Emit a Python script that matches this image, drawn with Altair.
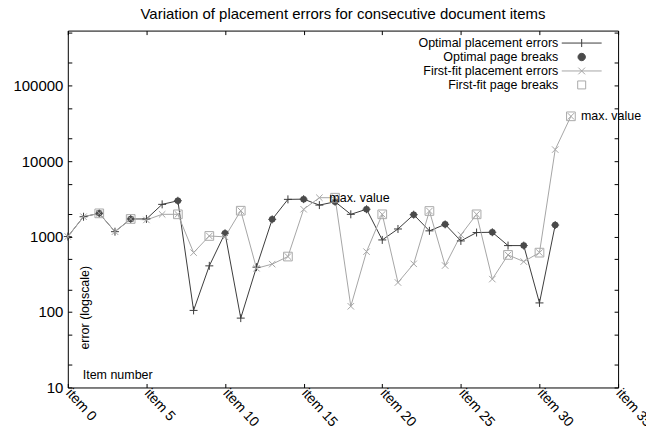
import altair as alt
import pandas as pd

# ---------------- data ----------------
series_names = ["Optimal placement errors", "Optimal page breaks",
                "First-fit placement errors", "First-fit page breaks"]

opt_items = list(range(0, 32))
opt_errors = [1000, 1830, 2030, 1160, 1710, 1710, 2670, 2980, 105, 409,
              1107, 83, 393, 1690, 3110, 3130, 2610, 2890, 1970, 2300,
              902, 1260, 1950, 1190, 1450, 875, 1130, 1140, 759, 759,
              132, 1420]

ff_items = list(range(0, 33))
ff_errors = [1000, 1830, 2030, 1160, 1710, 1660, 1970, 1970, 612, 1018,
             990, 2200, 380, 431, 543, 2300, 3270, 3270, 119, 631,
             1970, 246, 435, 2180, 413, 1050, 1970, 273, 571, 466,
             612, 14200, 39200]

opt_break_items = [2, 4, 7, 10, 13, 15, 17, 19, 22, 24, 27, 29, 31]
ff_break_items = [2, 4, 7, 9, 11, 14, 17, 20, 23, 26, 28, 30, 32]

label_items = [16, 32]
label_values = [3270, 39200]
label_texts = ["max. value", "max. value"]

x_ticks = [0, 5, 10, 15, 20, 25, 30, 35]
y_major = [10, 100, 1000, 10000, 100000]
y_minor = [20, 50, 200, 500, 2000, 5000, 20000, 50000, 200000, 500000]

# ---------------- tables ----------------
opt_df = pd.DataFrame({"item": opt_items, "error": opt_errors, "series": series_names[0]})
ff_df = pd.DataFrame({"item": ff_items, "error": ff_errors, "series": series_names[2]})
opt_map = dict(zip(opt_items, opt_errors))
ff_map = dict(zip(ff_items, ff_errors))
opt_br_df = pd.DataFrame({"item": opt_break_items,
                          "error": [opt_map[i] for i in opt_break_items]})
ff_br_df = pd.DataFrame({"item": ff_break_items,
                         "error": [ff_map[i] for i in ff_break_items]})
lab_df = pd.DataFrame({"item": label_items, "error": label_values, "text": label_texts})
# the key is drawn from the scale domains alone, so its layer holds no rows
key_df = pd.DataFrame({"item": pd.Series([], dtype=float),
                       "error": pd.Series([], dtype=float),
                       "series": pd.Series([], dtype=str)})

# ---------------- styling ----------------
FONT = "Liberation Sans"
DARK = "#3c3c3c"
DARK_PT = "#4a4a4a"
LIGHT = "#a6a6a6"
LIGHT_SQ = "#aaaaaa"

PLUS = "M-1,0L1,0M0,-1L0,1"
XMARK = "M-1,-1L1,1M-1,1L1,-1"
# key symbols (unit = 6.5 px), drawn to the right of the right-aligned labels
KEY_PLUS = "M1.615,0L7.77,0M4.69,-0.615L4.69,0.615"
KEY_DOT = "M5.26,0A0.57,0.57,0,1,1,4.12,0A0.57,0.57,0,1,1,5.26,0Z"
KEY_X = "M1.615,0L7.77,0M4.17,-0.52L5.21,0.52M4.17,0.52L5.21,-0.52"
KEY_SQ = "M4.075,-0.615L5.305,-0.615L5.305,0.615L4.075,0.615Z"

xscale = alt.Scale(domain=[0, 35], nice=False, zero=False)
yscale = alt.Scale(type="log", domain=[10, 536000], nice=False)

y_all = sorted(y_major + y_minor)
major_test = " || ".join(f"datum.value == {v}" for v in y_major)

ax_bottom = alt.Axis(orient="bottom", values=x_ticks, labelExpr="'item ' + datum.value",
                     labelAngle=48, labelAlign="left", labelBaseline="middle",
                     labelFontSize=14, labelFont=FONT, labelColor="black",
                     labelPadding=3, tickSize=4, tickColor="black", offset=-4,
                     domain=False, grid=False, title=None, labelOverlap=False,
                     labelFlush=False)
ax_left = alt.Axis(orient="left", values=y_all,
                   labelExpr=f"({major_test}) ? format(datum.value, 'd') : ''",
                   labelFontSize=15, labelFont=FONT, labelColor="black",
                   labelPadding=5, tickSize=4, tickColor="black", offset=-4,
                   domain=False, grid=False, title=None, labelOverlap=False,
                   labelFlush=False)
ax_top = alt.Axis(orient="top", values=x_ticks, labels=False, tickSize=4,
                  tickColor="black", offset=-4, domain=False, grid=False, title=None)
ax_right = alt.Axis(orient="right", values=y_all, labels=False, tickSize=4,
                    tickColor="black", offset=-4, domain=False, grid=False, title=None)

legend = alt.Legend(title=None, orient="none", legendX=478, legendY=5.5, padding=0,
                    labelAlign="right", labelOffset=0, symbolSize=169,
                    rowPadding=0, symbolStrokeWidth=1, labelFontSize=12.5,
                    labelFont=FONT, labelColor="black", labelLimit=400)

color_s = alt.Scale(domain=series_names, range=[DARK, DARK_PT, LIGHT, LIGHT_SQ])
fill_s = alt.Scale(domain=series_names, range=["transparent", DARK_PT, "transparent", "transparent"])
shape_s = alt.Scale(domain=series_names, range=[KEY_PLUS, KEY_DOT, KEY_X, KEY_SQ])


def xy(ax_x=None, ax_y=None):
    return dict(
        x=alt.X("item:Q", scale=xscale, axis=ax_x),
        y=alt.Y("error:Q", scale=yscale, axis=ax_y),
    )


line_opt = alt.Chart(opt_df).mark_line(color=DARK, strokeWidth=1).encode(**xy(ax_bottom, ax_left))
line_ff = alt.Chart(ff_df).mark_line(color=LIGHT, strokeWidth=1).encode(**xy(ax_top, ax_right))

pts_opt = alt.Chart(opt_df).mark_point(shape=PLUS, size=64, color=DARK, filled=False,
                                      opacity=1, strokeWidth=1).encode(**xy())
pts_ff = alt.Chart(ff_df).mark_point(shape=XMARK, size=42, color=LIGHT, filled=False,
                                    opacity=1, strokeWidth=1).encode(**xy())

circles = alt.Chart(opt_br_df).mark_point(shape="circle", size=43, filled=True,
                                         color=DARK_PT, opacity=1).encode(**xy())
squares = alt.Chart(ff_br_df).mark_point(shape="square", size=76, filled=False,
                                        color=LIGHT_SQ, opacity=1, strokeWidth=1).encode(**xy())

key = alt.Chart(key_df).mark_point(filled=False, opacity=1, strokeWidth=1).encode(
    **xy(),
    color=alt.Color("series:N", scale=color_s, legend=legend),
    fill=alt.Fill("series:N", scale=fill_s, legend=legend),
    shape=alt.Shape("series:N", scale=shape_s, legend=legend),
)

labels = alt.Chart(lab_df).mark_text(align="left", baseline="middle", dx=10,
                                     fontSize=12.5, font=FONT, color="black").encode(
    **xy(), text="text:N")

ylab = alt.Chart(pd.DataFrame({"t": ["error (logscale)"]})).mark_text(
    angle=270, align="center", baseline="middle", fontSize=12.5, font=FONT, color="black"
).encode(x=alt.value(17), y=alt.value(278), text="t:N")
xlab = alt.Chart(pd.DataFrame({"t": ["Item number"]})).mark_text(
    align="left", baseline="middle", fontSize=12.5, font=FONT, color="black"
).encode(x=alt.value(15), y=alt.value(345), text="t:N")

chart = alt.layer(
    line_opt, line_ff, pts_opt, circles, pts_ff, squares, key, labels, ylab, xlab
).resolve_axis(x="independent", y="independent").properties(
    width=552, height=358,
    title="Variation of placement errors for consecutive document items",
    autosize=alt.AutoSizeParams(type="none"),
    padding={"left": 60, "top": 22, "right": 28, "bottom": 44},
).configure(font=FONT).configure_view(stroke="black", strokeWidth=1).configure_title(
    fontSize=15, fontWeight="normal", font=FONT, color="black", offset=4, anchor="middle"
)

chart.save("out.html", embed_options={"renderer": "svg", "actions": False})
